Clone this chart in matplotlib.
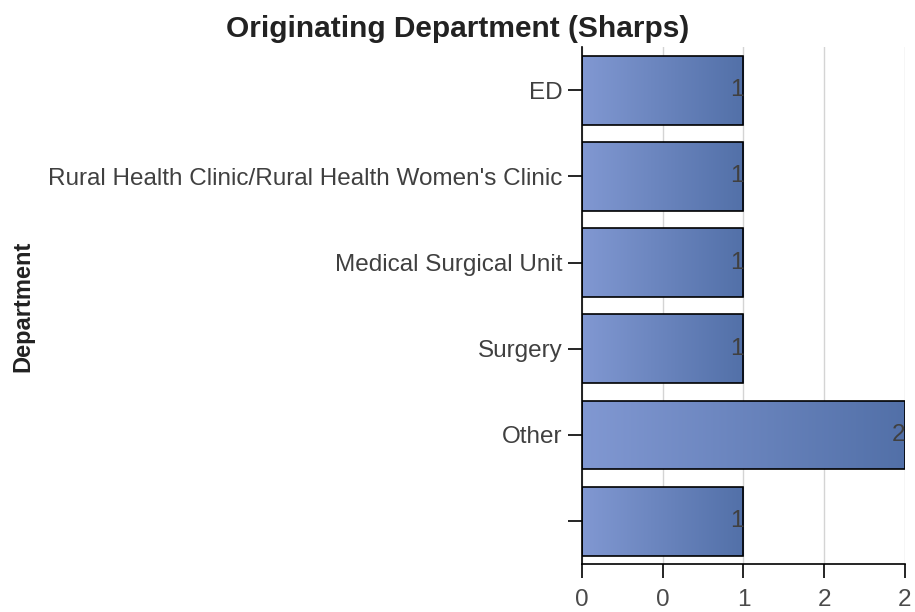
import matplotlib
matplotlib.use("Agg")
import matplotlib.pyplot as plt
import matplotlib.ticker as tkr
import numpy as np

departments = ["ED", "Rural Health Clinic/Rural Health Women's Clinic",
               "Medical Surgical Unit", "Surgery", "Other", ""]
counts = [1, 1, 1, 1, 2, 1]
xticks = [0, 0.5, 1, 1.5, 2]

plt.rcParams['font.family'] = ['Liberation Sans', 'DejaVu Sans']

fig = plt.figure(figsize=(9.15, 6.12), dpi=100)
ax = fig.add_axes([0.636, 0.078, 0.353, 0.845])

ypos = np.arange(len(departments))
bars = ax.barh(ypos, counts, height=0.8, color="none", edgecolor="black", linewidth=1.2, zorder=3)

# horizontal gradient, light on the left, darker on the right
grad = np.linspace(0, 1, 256).reshape(1, -1)
cmap = matplotlib.colors.LinearSegmentedColormap.from_list("g", ["#8198d2", "#5270a8"])
for b in bars:
  x0, y0 = b.get_x(), b.get_y()
  w, h = b.get_width(), b.get_height()
  im = ax.imshow(grad, cmap=cmap, aspect="auto", extent=(x0, x0 + w, y0 + h, y0), zorder=2, interpolation="bicubic")
  im.set_clip_path(b)

for y, v in zip(ypos, counts):
  ax.text(v, y, str(v), ha="right", va="center", fontsize=17.5, color="#404040", zorder=4)

ax.set_xlim(0, 2)
ax.set_ylim(5.5, -0.5)
ax.set_yticks(ypos)
ax.set_yticklabels(departments, fontsize=17.5, color="#404040")
ax.set_xticks(xticks)
ax.xaxis.set_major_formatter(tkr.FuncFormatter(lambda x, pos: "{:.0f}".format(x)))
ax.tick_params(axis="x", labelsize=17.5, labelcolor="#4a4a4a", length=10, width=1.2, pad=8)
ax.tick_params(axis="y", length=10, width=1.2, pad=4)
ax.grid(axis="x", color="#d4d4d4", linewidth=1, zorder=0)
ax.set_axisbelow(True)
for s in ["top", "right"]:
  ax.spines[s].set_visible(False)
for s in ["left", "bottom"]:
  ax.spines[s].set_linewidth(1.2)

fig.text(0.5, 0.953, "Originating Department (Sharps)", ha="center", va="center", fontsize=21.5, fontweight="bold", color="#222222")
fig.text(0.025, 0.5, "Department", rotation=90, ha="center", va="center", fontsize=17, fontweight="bold", color="#222222")

fig.savefig("out.png", dpi=100)
